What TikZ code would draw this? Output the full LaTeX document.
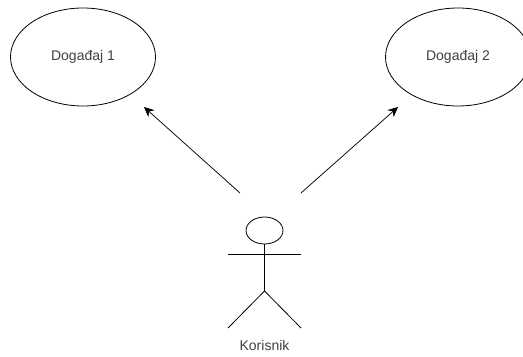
\documentclass[tikz,border=0pt]{standalone}
\usepackage{fontspec}
\setmainfont{Liberation Sans}
\usetikzlibrary{arrows.meta,positioning,shapes.geometric}
\definecolor{labelgray}{gray}{0.25}
\tikzset{
    eventnode/.style={draw, ellipse, minimum width=108.75pt, minimum height=73.5pt, inner sep=0pt, line width=0.6pt, text=labelgray, font=\fontsize{10.5}{12}\selectfont},
    actorline/.style={draw, line width=0.6pt},
    flowarrow/.style={-{Stealth[length=7.5pt,width=7pt]}, line width=0.55pt}
}
\begin{document}
\begin{tikzpicture}[x=0.75pt, y=-0.75pt]
    \useasboundingbox (0,0) rectangle (523,356);
    % Events
    \node[eventnode] (event1) at (83,57) {Događaj 1};
    \node[eventnode] (event2) at (458,57) {Događaj 2};
    % Actor
    \node[draw, ellipse, minimum width=27.75pt, minimum height=20.25pt, inner sep=0pt, line width=0.6pt] (head) at (264.5,230.5) {};
    \coordinate (hip) at (264.5,291);
    \coordinate (armL) at (228,254);
    \coordinate (armR) at (301,254);
    \coordinate (footL) at (228,328);
    \coordinate (footR) at (301,328);
    \draw[actorline] (head.south) -- (hip);
    \draw[actorline] (armL) -- (armR);
    \draw[actorline] (footL) -- (hip) -- (footR);
    \node[text=labelgray, font=\fontsize{10.5}{12}\selectfont] (actor) at (264.5,345) {Korisnik};
    % Arrows
    \coordinate (start1) at (240,193);
    \coordinate (start2) at (301,193);
    \coordinate (end1) at (144,107);
    \coordinate (end2) at (398,107);
    \draw[flowarrow] (start1) -- (end1);
    \draw[flowarrow] (start2) -- (end2);
\end{tikzpicture}
\end{document}
